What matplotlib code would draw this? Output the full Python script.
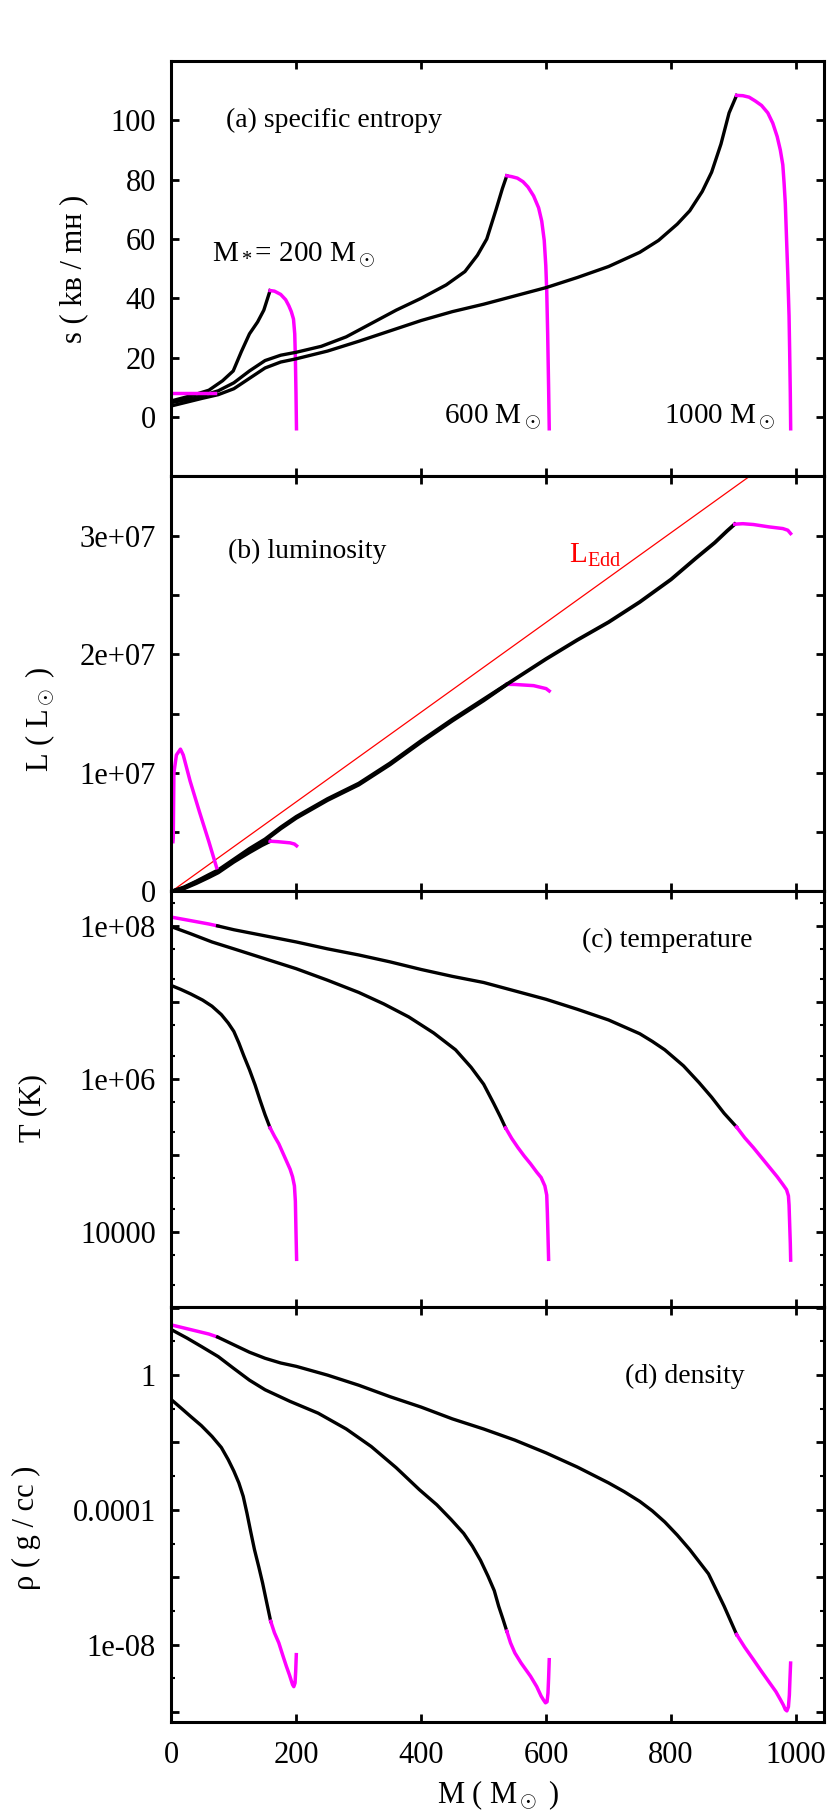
import numpy as np
import matplotlib
matplotlib.use("Agg")
import matplotlib.pyplot as plt
from matplotlib.ticker import FixedLocator, FuncFormatter

plt.rcParams["font.family"] = ["Liberation Serif", "DejaVu Serif"]
plt.rcParams["mathtext.fontset"] = "custom"
plt.rcParams["mathtext.rm"] = "Liberation Serif"
plt.rcParams["mathtext.it"] = "Liberation Serif:italic"

BLACK = "black"
MAG = "#ff00ff"

# ---------------- (a) specific entropy ----------------
m200_a = [0, 20, 40, 60, 82, 99, 112, 125, 138, 148, 158]
s200_a = [5.4, 6.5, 7.7, 9.0, 12.2, 15.5, 22, 28, 32, 36, 42.6]
m200_a_env = [158, 165, 175, 183, 188, 192, 195.5, 197.5, 198.5, 199.5, 200.3]
s200_a_env = [42.6, 42.4, 41.3, 39.5, 37.5, 35.5, 33, 28, 20, 8, -4]

m600_a = [0, 25, 50, 75, 100, 125, 150, 175, 200, 240, 280, 320, 360, 400, 440,
          470, 490, 505, 520, 530, 537]
s600_a = [4.8, 5.9, 7.2, 8.8, 11.5, 15.5, 19, 20.8, 21.8, 23.8, 27, 31.5, 36, 40,
          44.5, 49, 54.5, 60, 70, 77, 81.3]
m600_a_env = [537, 545, 554, 563, 571, 580, 588, 593, 597, 599.5, 601, 602.5, 604, 605]
s600_a_env = [81.3, 81, 80.5, 79.3, 77.5, 74.5, 70.5, 66, 59.5, 51, 42.5, 28, 10, -4]

m1000_a = [0, 25, 50, 75, 100, 125, 150, 175, 200, 250, 300, 350, 400, 450, 500,
           550, 600, 650, 700, 750, 780, 810, 830, 850, 865, 880, 893, 905]
s1000_a = [3.7, 5, 6.3, 7.5, 9.5, 13, 16.5, 18.5, 19.6, 22.2, 25.5, 29, 32.5, 35.5,
           38, 40.8, 43.6, 47, 50.7, 55.5, 59.5, 65, 69.5, 76, 82.5, 92, 102.5, 108.4]
m1000_a_env = [905, 915, 925, 935, 945, 955, 963, 970, 975, 979, 981, 983, 985, 987,
               989, 990, 991, 991.6]
s1000_a_env = [108.4, 108.3, 107.8, 106.5, 105, 102.5, 99, 94.5, 90, 85, 79, 72, 60,
               48, 34, 22, 8, -4]
m1000_a_core = [2, 70]
s1000_a_core = [8.2, 8.2]

# ---------------- (b) luminosity (1e7 Lsun) ----------------
m_edd = [0, 1000]
l_edd = [0, 3.78]

m200_b = [0, 20, 40, 60, 75, 100, 125, 145, 158]
l200_b = [0, 0.025, 0.07, 0.12, 0.16, 0.25, 0.33, 0.39, 0.424]
m200_b_env = [158, 170, 180, 190, 197, 200.5]
l200_b_env = [0.424, 0.42, 0.415, 0.41, 0.40, 0.385]

m600_b = [0, 20, 40, 60, 75, 100, 125, 150, 175, 200, 250, 300, 350, 400, 450, 500, 537]
l600_b = [0, 0.03, 0.08, 0.13, 0.17, 0.26, 0.35, 0.43, 0.53, 0.62, 0.77, 0.90, 1.07,
          1.26, 1.44, 1.61, 1.745]
m600_b_env = [537, 550, 565, 580, 592, 600, 605]
l600_b_env = [1.746, 1.745, 1.74, 1.735, 1.72, 1.71, 1.69]

m1000_b = [0, 20, 40, 60, 75, 100, 125, 150, 175, 200, 250, 300, 350, 400, 450, 500,
           550, 600, 650, 700, 750, 800, 840, 870, 890, 902]
l1000_b = [0, 0.035, 0.085, 0.14, 0.18, 0.27, 0.36, 0.44, 0.54, 0.63, 0.78, 0.91,
           1.08, 1.27, 1.45, 1.62, 1.79, 1.96, 2.12, 2.27, 2.44, 2.63, 2.81, 2.94,
           3.04, 3.096]
m1000_b_env = [902, 915, 932, 957, 979, 987, 991.5]
l1000_b_env = [3.096, 3.10, 3.093, 3.073, 3.059, 3.045, 3.017]
m1000_b_core = [2.5, 3, 4, 8, 14.5, 19, 30, 45, 60, 72.5]
l1000_b_core = [0.42, 0.45, 1.0, 1.15, 1.2, 1.15, 0.93, 0.67, 0.42, 0.2]

# ---------------- (c) temperature (log10 K) ----------------
m200_c = [0, 15, 31, 50, 65, 80, 91, 100, 108, 116, 125, 134, 142, 150, 158]
t200_c = [7.22, 7.17, 7.11, 7.03, 6.95, 6.84, 6.73, 6.62, 6.47, 6.3, 6.12, 5.92,
          5.72, 5.53, 5.36]
m200_c_env = [158, 165, 172, 178, 184, 190, 194, 197, 198.5, 199.5, 200.5]
t200_c_env = [5.36, 5.25, 5.15, 5.04, 4.93, 4.82, 4.72, 4.60, 4.4, 4.0, 3.64]

m600_c = [0, 30, 65, 100, 150, 200, 250, 300, 340, 380, 420, 455, 480, 500, 516, 527, 535]
t600_c = [7.99, 7.9, 7.79, 7.70, 7.57, 7.44, 7.29, 7.13, 6.98, 6.81, 6.60, 6.38,
          6.15, 5.93, 5.68, 5.5, 5.36]
m600_c_env = [535, 545, 555, 565, 575, 585, 592, 598, 601, 602, 603, 604]
t600_c_env = [5.36, 5.22, 5.1, 4.99, 4.89, 4.78, 4.71, 4.6, 4.48, 4.25, 3.95, 3.64]

m1000_c_core = [3, 20, 40, 60, 74]
t1000_c_core = [8.11, 8.085, 8.055, 8.025, 8.0]
m1000_c = [74, 100, 150, 200, 250, 300, 350, 400, 450, 500, 550, 600, 650, 700, 725,
           750, 770, 790, 820, 845, 865, 885, 905]
t1000_c = [8.0, 7.95, 7.87, 7.79, 7.70, 7.62, 7.53, 7.43, 7.34, 7.26, 7.15, 7.04,
           6.91, 6.77, 6.68, 6.59, 6.49, 6.38, 6.17, 5.95, 5.76, 5.55, 5.37]
m1000_c_env = [905, 918, 932, 945, 958, 970, 979, 985, 988, 989, 990, 991, 991.6]
t1000_c_env = [5.37, 5.23, 5.1, 4.97, 4.84, 4.72, 4.62, 4.55, 4.47, 4.35, 4.1, 3.85, 3.63]

# ---------------- (d) density (log10 g/cc) ----------------
m200_d = [0, 15, 31, 48, 65, 80, 91, 100, 108, 115, 121, 127, 133, 140, 146, 152, 159]
r200_d = [-0.73, -0.97, -1.23, -1.5, -1.82, -2.15, -2.51, -2.85, -3.2, -3.6, -4.1,
          -4.65, -5.18, -5.7, -6.17, -6.7, -7.31]
m200_d_env = [159, 165, 172, 178, 184, 189, 194, 196, 198, 199, 200]
r200_d_env = [-7.31, -7.65, -7.95, -8.3, -8.64, -8.9, -9.19, -9.25, -9.14, -8.8, -8.3]

m600_d = [0, 25, 48, 75, 99, 125, 150, 190, 235, 280, 320, 360, 397, 425, 448, 468,
          482, 495, 507, 517, 524, 531, 537]
r600_d = [1.35, 1.1, 0.85, 0.55, 0.21, -0.15, -0.435, -0.78, -1.13, -1.6, -2.12,
          -2.75, -3.4, -3.85, -4.29, -4.7, -5.08, -5.5, -5.97, -6.4, -6.86, -7.25, -7.6]
m600_d_env = [537, 543, 550, 560, 575, 585, 592, 596, 599, 601.5, 603, 604, 605]
r600_d_env = [-7.6, -7.95, -8.25, -8.55, -8.94, -9.25, -9.53, -9.65, -9.73, -9.7,
              -9.44, -9.0, -8.45]

m1000_d_core = [0, 20, 40, 60, 74]
r1000_d_core = [1.49, 1.40, 1.31, 1.22, 1.13]
m1000_d = [74, 100, 125, 150, 175, 200, 250, 300, 350, 400, 450, 500, 550, 600, 650,
           700, 725, 750, 770, 790, 810, 830, 860, 885, 905]
r1000_d = [1.13, 0.9, 0.68, 0.5, 0.36, 0.26, 0.0, -0.3, -0.64, -0.95, -1.3, -1.6,
           -1.93, -2.31, -2.73, -3.2, -3.46, -3.75, -4.03, -4.36, -4.75, -5.18, -5.9,
           -6.86, -7.7]
m1000_d_env = [905, 918, 932, 945, 958, 968, 975, 980, 983, 985.5, 988, 989.5, 990.5, 991.5]
r1000_d_env = [-7.7, -8.08, -8.45, -8.8, -9.14, -9.4, -9.63, -9.8, -9.93, -9.97,
               -9.85, -9.5, -9.0, -8.55]

# ---------------- figure ----------------
fig = plt.figure(figsize=(8.3, 18.17), dpi=100)
left, width = 0.2065, 0.7863
h = 0.22854
bottoms = [0.73790, 0.50936, 0.28082, 0.05228]
axes = [fig.add_axes([left, b, width, h]) for b in bottoms]
ax_a, ax_b, ax_c, ax_d = axes

LW = 2.4
LWM = 2.5
FS_TICK = 22
FS_TXT = 20


def pair(ax, m, y, me, ye, conv=None):
    ax.plot(m, conv(y) if conv else y, color=BLACK, lw=LW, solid_joinstyle="round")
    ax.plot(me, conv(ye) if conv else ye, color=MAG, lw=LWM, solid_joinstyle="round")


def exp10(v):
    return np.power(10.0, np.asarray(v))


# (a)
pair(ax_a, m200_a, s200_a, m200_a_env, s200_a_env)
pair(ax_a, m600_a, s600_a, m600_a_env, s600_a_env)
pair(ax_a, m1000_a, s1000_a, m1000_a_env, s1000_a_env)
ax_a.plot(m1000_a_core, s1000_a_core, color=MAG, lw=LWM)
ax_a.set_ylim(-20, 120)
ax_a.yaxis.set_major_locator(FixedLocator([0, 20, 40, 60, 80, 100]))
ax_a.text(88, 100, "(a) specific entropy", fontsize=FS_TXT, va="center")
ax_a.text(65, 54.5, r"M$_*$= 200 M$_\odot$", fontsize=FS_TXT + 1, va="center")
ax_a.text(436, 0, r"600 M$_\odot$", fontsize=FS_TXT + 1, va="center")
ax_a.text(789, 0, r"1000 M$_\odot$", fontsize=FS_TXT + 1, va="center")

# (b)
scale = 1e7
ax_b.plot(m_edd, np.asarray(l_edd) * scale, color="red", lw=0.9)
for m, l, me, le in [(m200_b, l200_b, m200_b_env, l200_b_env),
                     (m600_b, l600_b, m600_b_env, l600_b_env),
                     (m1000_b, l1000_b, m1000_b_env, l1000_b_env)]:
    ax_b.plot(m, np.asarray(l) * scale, color=BLACK, lw=LW + 0.3, solid_joinstyle="round")
    ax_b.plot(me, np.asarray(le) * scale, color=MAG, lw=LWM)
ax_b.plot(m1000_b_core, np.asarray(l1000_b_core) * scale, color=MAG, lw=LWM)
ax_b.set_ylim(0, 3.5e7)
ax_b.yaxis.set_major_locator(FixedLocator(np.arange(0, 3.51e7, 5e6)))
ax_b.yaxis.set_major_formatter(FuncFormatter(
    lambda v, p: {0: "0", 1: "1e+07", 2: "2e+07", 3: "3e+07"}.get(int(round(v / 1e7)), "")
    if abs(v / 1e7 - round(v / 1e7)) < 1e-6 else ""))
ax_b.text(91, 2.87e7, "(b) luminosity", fontsize=FS_TXT, va="center")
ax_b.text(636, 2.83e7, r"L$_{\mathrm{Edd}}$", fontsize=FS_TXT + 1, va="center", color="red")

# (c)
pair(ax_c, m200_c, t200_c, m200_c_env, t200_c_env, exp10)
pair(ax_c, m600_c, t600_c, m600_c_env, t600_c_env, exp10)
ax_c.plot(m1000_c_core, exp10(t1000_c_core), color=MAG, lw=LWM)
pair(ax_c, m1000_c, t1000_c, m1000_c_env, t1000_c_env, exp10)
ax_c.set_yscale("log")
ax_c.set_ylim(10 ** 3.02, 10 ** 8.45)
ax_c.yaxis.set_major_locator(FixedLocator([1e3, 1e4, 1e5, 1e6, 1e7, 1e8]))
ax_c.yaxis.set_minor_locator(FixedLocator(
    [k * 10.0 ** e for e in range(3, 9) for k in (2, 5)]))
ax_c.yaxis.set_major_formatter(FuncFormatter(
    lambda v, p: {4: "10000", 6: "1e+06", 8: "1e+08"}.get(int(round(np.log10(v))), "")))
ax_c.yaxis.set_minor_formatter(FuncFormatter(lambda v, p: ""))
ax_c.text(657, 10 ** 7.81, "(c) temperature", fontsize=FS_TXT, va="center")

# (d)
pair(ax_d, m200_d, r200_d, m200_d_env, r200_d_env, exp10)
pair(ax_d, m600_d, r600_d, m600_d_env, r600_d_env, exp10)
ax_d.plot(m1000_d_core, exp10(r1000_d_core), color=MAG, lw=LWM)
pair(ax_d, m1000_d, r1000_d, m1000_d_env, r1000_d_env, exp10)
ax_d.set_yscale("log")
ax_d.set_ylim(10 ** -10.3, 10 ** 2.03)
ax_d.yaxis.set_major_locator(FixedLocator([10.0 ** e for e in range(-10, 3, 2)]))
ax_d.yaxis.set_minor_locator(FixedLocator([10.0 ** e for e in range(-9, 2, 2)]))
ax_d.yaxis.set_major_formatter(FuncFormatter(
    lambda v, p: {0: "1", -4: "0.0001", -8: "1e-08"}.get(int(round(np.log10(v))), "")))
ax_d.yaxis.set_minor_formatter(FuncFormatter(lambda v, p: ""))
ax_d.text(727, 10 ** -0.04, "(d) density", fontsize=FS_TXT, va="center")

# common styling
ylabels = [("s ( kʙ / mʜ )", -0.149, 0.5),
           (r"L ( L$_\odot$ )", -0.201, 0.415),
           ("T (K)", -0.212, 0.478),
           ("ρ ( g / cc )", -0.222, 0.468)]
for ax, (lab, lx, ly) in zip(axes, ylabels):
    ax.set_xlim(0, 1045)
    ax.xaxis.set_major_locator(FixedLocator([0, 200, 400, 600, 800, 1000]))
    for sp in ax.spines.values():
        sp.set_linewidth(2.2)
    ax.tick_params(which="major", direction="in", top=True, right=True,
                   length=5.5, width=2.0, labelsize=FS_TICK, pad=11)
    ax.tick_params(which="minor", direction="in", left=True, right=True,
                   length=3, width=1.5)
    ax.tick_params(axis="x", pad=14)
    ax.text(lx, ly, lab, rotation=90, ha="center", va="center",
            transform=ax.transAxes, fontsize=FS_TICK)
    if ax is not ax_d:
        ax.tick_params(axis="x", labelbottom=False)

ax_d.set_xlabel(r"M ( M$_\odot$ )", fontsize=FS_TICK, labelpad=6)

fig.savefig("out.png", dpi=100)
